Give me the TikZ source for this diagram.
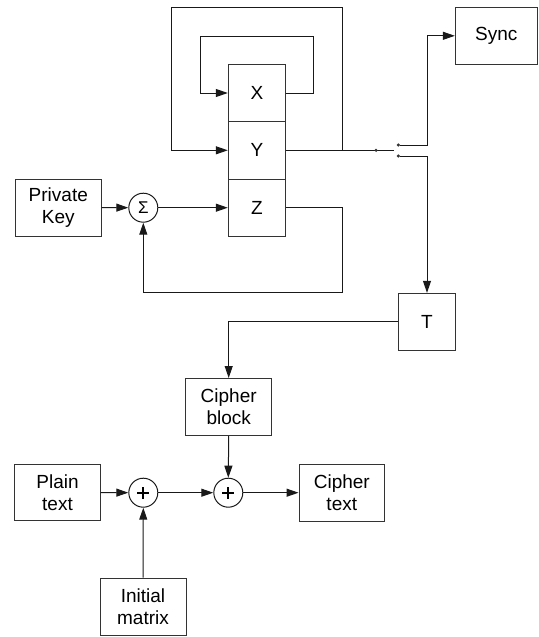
\documentclass[tikz,border=0pt]{standalone}
\usepackage{fontspec}
\setmainfont{Liberation Sans}
\usetikzlibrary{arrows.meta}
\begin{document}
\begin{tikzpicture}[x=1pt,y=-1pt,
  box/.style={draw=black!80,line width=1pt,rectangle,inner sep=0pt,align=center,
    font=\fontsize{19}{21.7}\selectfont},
  sq/.style={box,minimum width=57.4pt,minimum height=57.4pt},
  wide/.style={box,minimum width=85.5pt,minimum height=57pt},
  circ/.style={draw=black!90,line width=1pt,circle,minimum size=29pt,inner sep=0pt},
  wire/.style={draw=black!90,line width=1pt},
  arr/.style={wire,-{Triangle[length=12pt,width=8pt]}},
  dot/.style={circle,fill=black!80,inner sep=0pt,minimum size=3.4pt}
]
\useasboundingbox (0,0) rectangle (538,637);
% register blocks
\node[sq] (X) at (257,93) {X};
\node[sq] (Y) at (257,150.3) {Y};
\node[sq] (Z) at (257,207.7) {Z};
\node[box,minimum width=81.7pt,minimum height=57pt] (S) at (496.2,35.8) {Sync};
\node[wide] (PK) at (58.3,207.5) {Private\\Key};
\node[circ] (sig) at (143.3,207.7) {};
\node[font=\fontsize{17}{17}\selectfont,inner sep=0pt] (sigt) at (143.3,207.2) {Σ};
\node[sq,minimum height=56.7pt] (T) at (427,321.7) {T};
\node[wide,minimum width=86pt] (CB) at (228.7,407) {Cipher\\block};
\node[wide,minimum height=56.7pt] (CT) at (341.8,492.7) {Cipher\\text};
\node[wide,minimum height=56.7pt] (PT) at (57.5,492.5) {Plain\\text};
\node[wide,minimum width=86pt] (IM) at (143,606.5) {Initial\\matrix};
\node[circ] (p1) at (143.3,492.7) {};
\node[circ] (p2) at (228.3,492.7) {};
\foreach \p in {p1,p2}{
  \draw[line width=2.2pt] ([xshift=-6pt]\p.center) -- ([xshift=6pt]\p.center);
  \draw[line width=2.2pt] ([yshift=-6pt]\p.center) -- ([yshift=6pt]\p.center);
}
% coordinates
\coordinate (oj) at (342,150.3);
\coordinate (ol) at (171.7,7.3);
\coordinate (ij) at (313.7,93);
\coordinate (il) at (200,36);
\coordinate (zj) at (342,207.7);
\coordinate (zb) at (342,292.7);
\coordinate (piv) at (376,150.3);
\coordinate (bl) at (394.3,150.3);
\coordinate (cu) at (398.3,145);
\coordinate (cd) at (398.3,156);
\coordinate (cux) at (427,145);
% outer loop Y
\draw[wire] (Y.east) -- (piv) -- (bl);
\draw[arr] (oj) |- (ol) |- (Y.west);
% inner loop X
\draw[arr] (X.east) -- (ij) |- (il) |- (X.west);
% switch
\node[dot] at (piv) {};
\node[dot] (cU) at (cu) {};
\node[dot] (cD) at (cd) {};
\draw[arr] (cU) -- (cux) |- (S.west);
\draw[arr] (cD) -| (T.north);
% Z feedback
\draw[arr] (PK.east) -- (sig.west);
\draw[arr] (sig.east) -- (Z.west);
\draw[arr] (Z.east) -- (zj) -- (zb) -| (sig.south);
% lower part
\draw[arr] (T.west) -| (CB.north);
\draw[arr] (CB.south) -- (p2.north);
\draw[arr] (PT.east) -- (p1.west);
\draw[arr] (p1.east) -- (p2.west);
\draw[arr] (p2.east) -- (CT.west);
\draw[arr] (IM.north) -- (p1.south);
\end{tikzpicture}
\end{document}
